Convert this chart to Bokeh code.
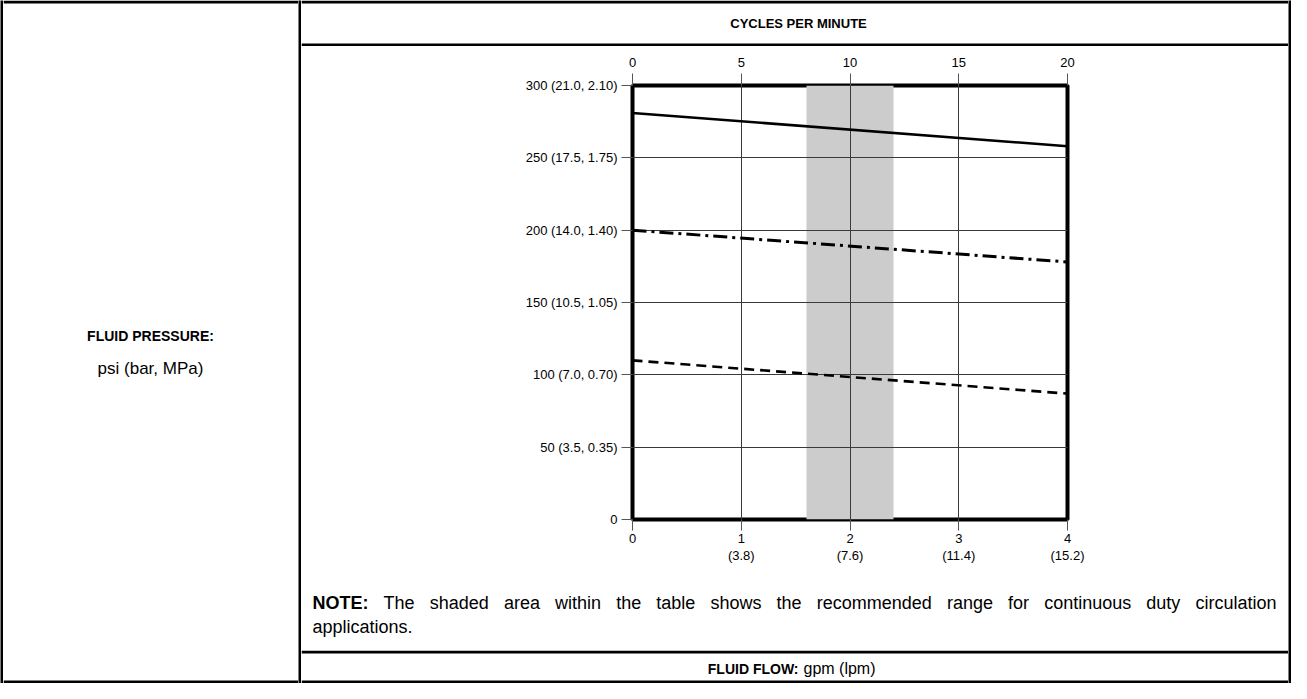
from bokeh.plotting import figure
from bokeh.layouts import row, column
from bokeh.models import LinearAxis, Range1d, FixedTicker, Grid
from bokeh.core.properties import value
from bokeh.embed import file_html
from bokeh.resources import INLINE

# ---------------- data ----------------
gpm_ticks = [0, 1, 2, 3, 4]
lpm_labels = ["", "(3.8)", "(7.6)", "(11.4)", "(15.2)"]
cpm_ticks = [0, 5, 10, 15, 20]
psi_ticks = [0, 50, 100, 150, 200, 250, 300]
psi_labels = ["0", "50 (3.5, 0.35)", "100 (7.0, 0.70)", "150 (10.5, 1.05)",
              "200 (14.0, 1.40)", "250 (17.5, 1.75)", "300 (21.0, 2.10)"]
grid_gpm = [1, 2, 3]
grid_psi = [50, 100, 150, 200, 250]
flow_gpm = [0, 4]
pressure_solid = [281, 258]
pressure_dashdot = [200, 178]
pressure_dashed = [110, 87]
shade_gpm = [1.6, 2.4]

NOTE_WORDS = ["The", "shaded", "area", "within", "the", "table", "shows", "the",
              "recommended", "range", "for", "continuous", "duty", "circulation"]

FONT = "Liberation Sans"
B = 3  # border thickness

# approximate Liberation Sans (Arial metric) advance widths, per 1000 em
_W = dict(a=556, b=556, c=500, d=556, e=556, f=278, g=556, h=556, i=222, j=222,
          k=500, l=222, m=833, n=556, o=556, p=556, q=556, r=333, s=500, t=278,
          u=556, v=500, w=722, x=500, y=500, z=500, T=611)


def word_width(wd, size):
    return sum(_W.get(ch, 556) for ch in wd) * size / 1000.0


def bar(w, h):
    f = figure(width=w, height=h, min_border=0, toolbar_location=None,
               output_backend="svg", x_axis_location=None, y_axis_location=None,
               background_fill_color="black", border_fill_color="black",
               outline_line_color=None, frame_align=False)
    f.xgrid.visible = False
    f.ygrid.visible = False
    return f


def cell(w, h, lines=()):
    f = figure(width=w, height=h, x_range=Range1d(0, w), y_range=Range1d(h, 0),
               min_border=0, toolbar_location=None, output_backend="svg",
               x_axis_location=None, y_axis_location=None,
               outline_line_color=None, background_fill_color="white",
               border_fill_color="white", frame_align=False)
    f.xgrid.visible = False
    f.ygrid.visible = False
    for (y0, y1) in lines:
        f.quad(left=[0], right=[w], bottom=[y1], top=[y0], fill_color="black",
               line_color=None)
    return f


def txt(f, x, y, s, size, bold=False, align="left"):
    f.text(x=[x], y=[y], text=[s], text_font=value(FONT), text_font_size=size,
           text_font_style="bold" if bold else "normal", text_align=align,
           text_baseline="middle", text_color="black")


LW = 295
RW = 987
H = 683

# left cell (with outer top / bottom borders)
left_cell = cell(LW, H, lines=[(0, B), (H - B, H)])
txt(left_cell, 147, 335, "FLUID PRESSURE:", "14px", bold=True, align="center")
txt(left_cell, 147, 368, "psi (bar, MPa)", "17px", align="center")

# header cell (top border + divider)
header = cell(RW, 46, lines=[(0, B), (46 - B, 46)])
txt(header, 497, 23, "CYCLES PER MINUTE", "13px", bold=True, align="center")

# chart
p = figure(width=RW, height=534, x_range=Range1d(0, 4), y_range=Range1d(0, 300),
           min_border_left=331, min_border_right=221, min_border_top=39,
           min_border_bottom=61, x_axis_location=None, y_axis_location=None,
           toolbar_location=None, output_backend="svg",
           outline_line_color="black", outline_line_width=4,
           background_fill_color="white", border_fill_color="white",
           frame_align=False)
p.extra_x_ranges = {"cpm": Range1d(0, 20)}
p.xgrid.visible = False
p.ygrid.visible = False
p.add_layout(Grid(dimension=0, ticker=FixedTicker(ticks=grid_gpm),
                  grid_line_color="#3a3a3a", grid_line_width=1))
p.add_layout(Grid(dimension=1, ticker=FixedTicker(ticks=grid_psi),
                  grid_line_color="#3a3a3a", grid_line_width=1))

p.quad(left=[shade_gpm[0]], right=[shade_gpm[1]], bottom=[psi_ticks[0]],
       top=[psi_ticks[-1]], fill_color="#cccccc", line_color=None, level="image")

p.line(flow_gpm, pressure_solid, line_color="black", line_width=2.6)
p.line(flow_gpm, pressure_dashdot, line_color="black", line_width=3,
       line_dash="14 5 3 5")
p.line(flow_gpm, pressure_dashed, line_color="black", line_width=2.6,
       line_dash="10 6")

common = dict(axis_line_color=None, major_tick_in=0, minor_tick_line_color=None,
              major_tick_line_color="#555555", major_tick_line_width=1,
              major_label_text_font=FONT, major_label_text_font_size="13px",
              major_label_text_color="black")

left_axis = LinearAxis(ticker=FixedTicker(ticks=psi_ticks),
                       major_label_overrides=dict(zip(psi_ticks, psi_labels)),
                       major_tick_out=11, major_label_standoff=4, **common)
p.add_layout(left_axis, "left")

top_axis = LinearAxis(x_range_name="cpm", ticker=FixedTicker(ticks=cpm_ticks),
                      major_tick_out=12, major_label_standoff=7, **common)
p.add_layout(top_axis, "above")

bottom_axis = LinearAxis(ticker=FixedTicker(ticks=gpm_ticks),
                         major_tick_out=11, major_label_standoff=3, **common)
p.add_layout(bottom_axis, "below")

c2 = dict(common)
c2["major_tick_line_color"] = None
lpm_axis = LinearAxis(ticker=FixedTicker(ticks=gpm_ticks),
                      major_label_overrides=dict(zip(gpm_ticks, lpm_labels)),
                      major_tick_out=0, major_label_standoff=2, **c2)
p.add_layout(lpm_axis, "below")

# note cell: first line justified like the reference
NS = 18
note = cell(RW, 70)
x_start, x_end = 11, 975
note_bold_w = (722 + 778 + 611 + 667 + 333) * NS / 1000.0
widths = [word_width(wd, NS) for wd in NOTE_WORDS]
gap = (x_end - x_start - note_bold_w - sum(widths)) / len(NOTE_WORDS)
txt(note, x_start, 22, "NOTE:", "%dpx" % NS, bold=True)
xs = []
cur = x_start + note_bold_w + gap
for wdt in widths:
    xs.append(cur)
    cur += wdt + gap
note.text(x=xs, y=[22] * len(xs), text=NOTE_WORDS, text_font=value(FONT),
          text_font_size="%dpx" % NS, text_align="left", text_baseline="middle",
          text_color="black")
txt(note, x_start, 46, "applications.", "%dpx" % NS)

# footer cell (divider + bottom border)
footer = cell(RW, 33, lines=[(0, B), (33 - B, 33)])
txt(footer, 497, 18, "FLUID FLOW:", "14px", bold=True, align="right")
txt(footer, 502, 18, "gpm (lpm)", "16px", align="left")

right_col = column(header, p, note, footer, spacing=0)
layout = row(bar(B, H), left_cell, bar(B, H), right_col, bar(B, H), spacing=0)

open("out.html", "w").write(file_html(layout, INLINE))
